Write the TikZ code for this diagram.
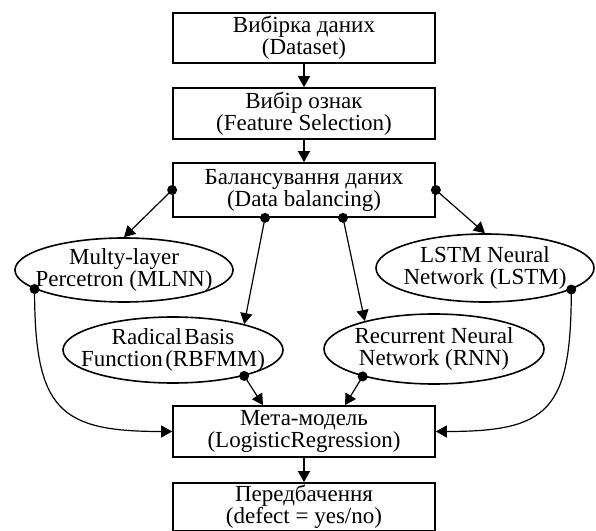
\documentclass[tikz,border=0pt]{standalone}
\usepackage{fontspec}
\setmainfont{Liberation Serif}
\usetikzlibrary{shapes.geometric,arrows.meta}
\begin{document}
\begin{tikzpicture}[x=1pt,y=1pt,
  box/.style={draw,line width=1.7pt,minimum width=262pt,align=center,inner sep=0pt,fill=white,font=\fontsize{23}{22}\selectfont},
  ell/.style={draw,ellipse,line width=1.6pt,inner sep=0pt},
  txt/.style={align=center,inner sep=0pt,font=\fontsize{23}{22}\selectfont},
  arr/.style={line width=1.2pt,-{Triangle[length=11pt,width=12pt]}},
  dot/.style={circle,fill=black,inner sep=0pt,minimum size=10pt}]
\useasboundingbox (0,0) rectangle (596,530);
\clip (0,0) rectangle (596,530);
% boxes
\node[box,minimum height=50pt] (ds) at (304,492) {Вибірка даних\\(Dataset)};
\node[box,minimum height=51pt] (fs) at (304,416.5) {Вибір ознак\\(Feature Selection)};
\node[box,minimum height=54pt] (bal) at (304,340) {Балансування даних\\(Data balancing)};
\node[box,minimum height=51pt] (meta) at (304,98.5) {Мета-модель\\(LogisticRegression)};
\node[box,minimum height=48pt] (pred) at (304,23) {Передбачення\\(defect = yes/no)};
% ellipses
\node[ell,minimum width=218pt,minimum height=64pt] (mlnn) at (124,260) {};
\node[txt] (mlnnT) at (mlnn) {Multy-layer\\Percetron (MLNN)};
\node[ell,minimum width=218pt,minimum height=68pt] (lstm) at (485,262) {};
\node[txt] (lstmT) at (lstm) {LSTM Neural\\Network (LSTM)};
\node[ell,minimum width=220pt,minimum height=66pt] (rbf) at (173,180) {};
\node[txt] (rbfT) at (rbf) {Radical\hspace{2.5pt}Basis\\Function\hspace{2.5pt}(RBFMM)};
\node[ell,minimum width=220pt,minimum height=70pt] (rnn) at (434,181) {};
\node[txt] (rnnT) at (rnn) {Recurrent Neural\\Network (RNN)};
% helper coordinates
\coordinate (b1) at ([xshift=-39pt]bal.south);
\coordinate (b2) at ([xshift=39pt]bal.south);
\coordinate (m1) at ([xshift=-41pt]meta.north);
\coordinate (m2) at ([xshift=41pt]meta.north);
% connectors
\draw[arr] (ds) -- (fs);
\draw[arr] (fs) -- (bal);
\draw[arr] (meta) -- (pred);
\draw[arr] (bal.west) -- (mlnn.north);
\draw[arr] (bal.east) -- (lstm.north);
\draw[arr] (b1) -- (rbf.20);
\draw[arr] (b2) -- (rnn.158);
\draw[arr] (rbf.340) -- (m1);
\draw[arr] (rnn.201.7) -- (m2);
\draw[arr] (mlnn.192.5) .. controls +(0,-121) and +(-113,0) .. (meta.west);
\draw[arr] (lstm.346) .. controls +(0,-121) and +(113,0) .. (meta.east);
% dots
\node[dot] (p1) at (bal.west) {};
\node[dot] (p2) at (bal.east) {};
\node[dot] (p3) at (b1) {};
\node[dot] (p4) at (b2) {};
\node[dot] (p5) at (mlnn.192.5) {};
\node[dot] (p6) at (lstm.346) {};
\node[dot] (p7) at (rbf.340) {};
\node[dot] (p8) at (rnn.201.7) {};
\end{tikzpicture}
\end{document}
